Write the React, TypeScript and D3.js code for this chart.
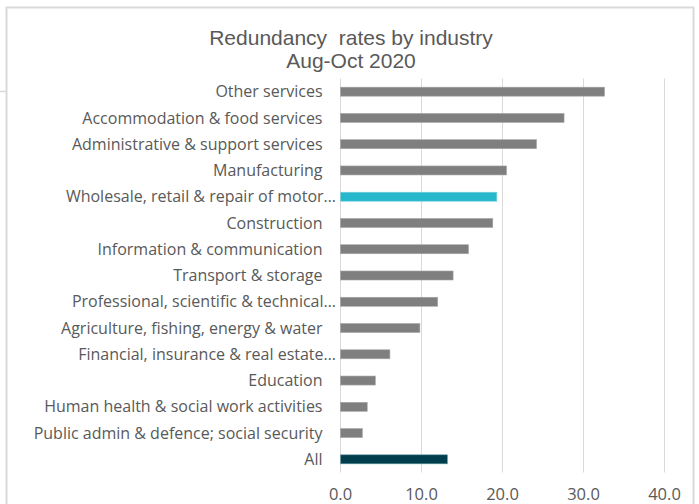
import * as d3 from 'd3';

const categories = [
  'Other services',
  'Accommodation & food services',
  'Administrative & support services',
  'Manufacturing',
  'Wholesale, retail & repair of motor…',
  'Construction',
  'Information & communication',
  'Transport & storage',
  'Professional, scientific & technical…',
  'Agriculture, fishing, energy & water',
  'Financial, insurance & real estate…',
  'Education',
  'Human health & social work activities',
  'Public admin & defence; social security',
  'All',
];

const rates = [32.6, 27.6, 24.2, 20.5, 19.3, 18.8, 15.8, 13.9, 12.0, 9.8, 6.1, 4.3, 3.3, 2.7, 13.2];

const ticks = [0, 10, 20, 30, 40];

const highlight = 'Wholesale, retail & repair of motor…';
const total = 'All';

const W = 699;
const H = 504;
const x0 = 340.5;
const x1 = 664.5;
const yTop = 78.5;
const yBottom = 472.5;

export default function App() {
  const x = d3.scaleLinear().domain([0, 40]).range([x0, x1]);
  const y = d3.scaleBand<string>().domain(categories).range([yTop, yBottom]).paddingInner(0.657).paddingOuter(0.33);

  const color = (c: string) => (c === highlight ? '#25b8cc' : c === total ? '#003d4d' : '#7f7f7f');
  const labelFont = '"Open Sans", sans-serif';

  return (
    <svg width={W} height={H} style={{ position: 'absolute', left: 0, top: 0, background: '#fff' }}>
      {/* chart frame */}
      <path d={`M6.5,${H} V7.5 H693.5 V${H}`} fill="none" stroke="#d9d9d9" strokeWidth={2} />
      <line x1={0} x2={6} y1={91.5} y2={91.5} stroke="#d9d9d9" strokeWidth={1.5} />

      {/* title */}
      <text
        x={351}
        y={45}
        textAnchor="middle"
        fontFamily='"Liberation Sans", Arial, sans-serif'
        fontSize={21}
        fill="#595959"
        style={{ whiteSpace: 'pre' }}
      >
        <tspan x={351}>Redundancy  rates by industry</tspan>
        <tspan x={351} dy={23}>Aug-Oct 2020</tspan>
      </text>

      {/* gridlines */}
      {ticks.map((t) => (
        <line key={t} x1={x(t)} x2={x(t)} y1={yTop} y2={yBottom} stroke="#d9d9d9" strokeWidth={1} />
      ))}

      {/* bars */}
      {categories.map((c, i) => (
        <rect
          key={c}
          x={x(0)}
          y={y(c)!}
          width={x(rates[i]) - x(0)}
          height={y.bandwidth()}
          fill={color(c)}
          stroke={c === total ? '#6a9aa6' : c === highlight ? '#7fd0dc' : '#a6a6a6'}
          strokeWidth={0.6}
        />
      ))}

      {/* category labels */}
      {categories.map((c) => (
        <text
          key={c}
          x={c.endsWith('…') ? 336 : 322.5}
          y={y(c)! + y.bandwidth() / 2}
          dy="0.35em"
          textAnchor="end"
          fontFamily={labelFont}
          fontSize={16}
          fill="#595959"
        >
          {c}
        </text>
      ))}

      {/* value axis labels */}
      {ticks.map((t) => (
        <text key={t} x={x(t)} y={500} textAnchor="middle" fontFamily={labelFont} fontSize={16.5} fill="#595959">
          {t.toFixed(1)}
        </text>
      ))}
    </svg>
  );
}
